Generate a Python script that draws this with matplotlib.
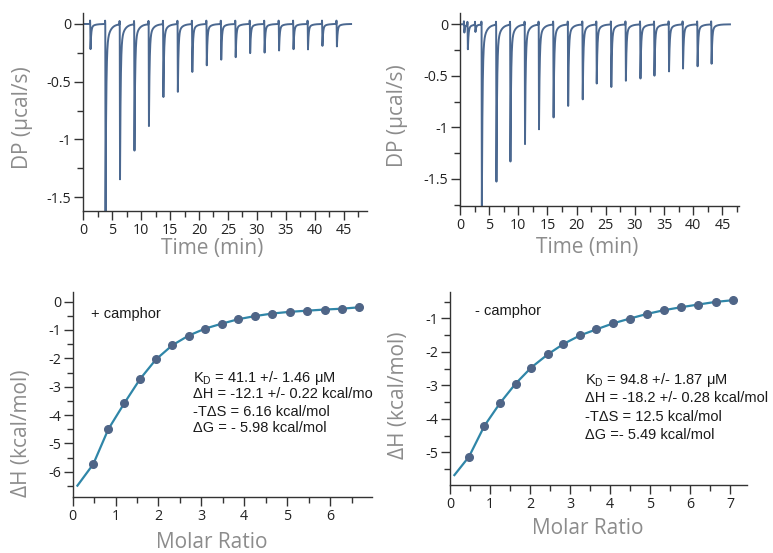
import numpy as np
import matplotlib
matplotlib.use("Agg")
import matplotlib.pyplot as plt
from matplotlib.ticker import MultipleLocator

plt.rcParams['axes.unicode_minus'] = False

# ---------------- data ----------------
# thermogram (+ camphor): injection times (min) and peak minima (ucal/s)
inj_t_plus = [1.2, 3.8, 6.3, 8.8, 11.3, 13.8, 16.3, 18.8, 21.3, 23.8, 26.3,
              28.8, 31.3, 33.8, 36.3, 38.8, 41.3, 43.8]
inj_d_plus = [-0.22, -1.65, -1.35, -1.105, -0.883, -0.635, -0.591, -0.415, -0.36,
              -0.31, -0.288, -0.254, -0.248, -0.23, -0.22, -0.22, -0.19, -0.196]

# thermogram (- camphor)
inj_t_minus = [0.7, 1.3, 2.6, 3.7, 6.2, 8.6, 11.1, 13.5, 16.0, 18.5, 21.0,
               23.4, 25.9, 28.4, 30.9, 33.3, 35.8, 38.2, 40.7, 43.1]
inj_d_minus = [-0.08, -0.24, -0.07, -1.80, -1.53, -1.34, -1.16, -1.02, -0.91,
               -0.79, -0.73, -0.578, -0.607, -0.549, -0.53, -0.497, -0.458,
               -0.432, -0.406, -0.383]

# integrated heats (+ camphor)
mr_plus = [0.48, 0.83, 1.20, 1.57, 1.94, 2.32, 2.70, 3.09, 3.47, 3.86, 4.25,
           4.65, 5.06, 5.46, 5.87, 6.27, 6.68]
dh_plus = [-5.73, -4.50, -3.59, -2.73, -2.04, -1.54, -1.20, -0.95, -0.78,
           -0.62, -0.51, -0.42, -0.36, -0.32, -0.28, -0.25, -0.20]
fit_x_plus = [0.11] + mr_plus
fit_y_plus = [-6.49] + dh_plus

# integrated heats (- camphor)
mr_minus = [0.475, 0.86, 1.25, 1.64, 2.03, 2.44, 2.83, 3.25, 3.66, 4.08, 4.49,
            4.92, 5.34, 5.77, 6.20, 6.64, 7.07]
dh_minus = [-5.13, -4.21, -3.53, -2.95, -2.47, -2.08, -1.77, -1.51, -1.33,
            -1.15, -1.01, -0.87, -0.76, -0.67, -0.59, -0.51, -0.46]
fit_x_minus = [0.11] + mr_minus
fit_y_minus = [-5.68] + dh_minus

stats_plus = [r"K$_{\mathregular{D}}$ = 41.1 +/- 1.46 μM",
              "ΔH = -12.1 +/- 0.22 kcal/mo",
              "-TΔS = 6.16 kcal/mol",
              "ΔG = - 5.98 kcal/mol"]
stats_minus = [r"K$_{\mathregular{D}}$ = 94.8 +/- 1.87 μM",
               "ΔH = -18.2 +/- 0.28 kcal/mol",
               "-TΔS = 12.5 kcal/mol",
               "ΔG =- 5.49 kcal/mol"]

# ---------------- style ----------------
TRACE = '#4b6890'
DOT = '#4f6587'
FIT = '#2f86a8'
LABEL_C = '#8c8c8c'
AX_C = '#333333'
TICK_FONT = 'Open Sans'
LBL_FONT = 'Open Sans'
TXT_FONT = 'Liberation Sans'
LBL_SIZE = 15

W, H = 773, 553
fig = plt.figure(figsize=(W / 100, H / 100), dpi=100)


def axes_px(x0, y0, x1, y1):
    return fig.add_axes([x0 / W, 1 - y1 / H, (x1 - x0) / W, (y1 - y0) / H])


def style(ax, xmaj, xmin, ymaj, ymin):
    for s in ['top', 'right']:
        ax.spines[s].set_visible(False)
    for s in ['left', 'bottom']:
        ax.spines[s].set_color(AX_C)
        ax.spines[s].set_linewidth(1.0)
    ax.xaxis.set_major_locator(MultipleLocator(xmaj))
    ax.xaxis.set_minor_locator(MultipleLocator(xmin))
    ax.yaxis.set_major_locator(MultipleLocator(ymaj))
    ax.yaxis.set_minor_locator(MultipleLocator(ymin))
    ax.tick_params(which='major', length=6.5, width=1, color=AX_C, labelsize=10.3,
                   labelcolor='#222222', pad=2)
    ax.tick_params(which='minor', length=4, width=1, color=AX_C)
    for lab in ax.get_xticklabels() + ax.get_yticklabels():
        lab.set_fontfamily(TICK_FONT)


def thermogram(times, depths, t_end):
    t = np.linspace(0.1, t_end, 24000)
    y = np.zeros_like(t)
    for ti, di in zip(times, depths):
        s = t - ti
        shape = np.zeros_like(t)
        rise = (s >= 0) & (s < 0.05)
        shape[rise] = s[rise] / 0.05
        dec = s >= 0.05
        sd = s[dec] - 0.05
        shape[dec] = 0.86 * np.exp(-sd / 0.11) + 0.14 * np.exp(-sd / 0.6)
        y += di * shape
        # small upward injection spike
        sp = (s > -0.06) & (s < 0)
        y[sp] += 0.03 * (1 - np.abs(s[sp] + 0.03) / 0.03)
    return t, y


def fmt(ax):
    ax.xaxis.set_major_formatter(matplotlib.ticker.FuncFormatter(lambda v, p: f"{v:g}"))
    ax.yaxis.set_major_formatter(matplotlib.ticker.FuncFormatter(lambda v, p: f"{v:g}"))


def labels(ax, xl, yl, xpos, ypos):
    ax.set_xlabel(xl, fontsize=LBL_SIZE, color=LABEL_C, fontfamily=LBL_FONT)
    ax.set_ylabel(yl, fontsize=LBL_SIZE, color=LABEL_C, fontfamily=LBL_FONT)
    ax.xaxis.set_label_coords(*xpos)
    ax.yaxis.set_label_coords(*ypos)
    ax.xaxis.label.set_va('center')
    ax.yaxis.label.set_va('center')


# ---- top left ----
ax1 = axes_px(83.3, 13, 366.7, 211)
t, y = thermogram(inj_t_plus, inj_d_plus, 46.3)
ax1.plot(t, y, color=TRACE, lw=1.4)
ax1.set_xlim(0, 49)
ax1.set_ylim(-1.62, 0.095)
style(ax1, 5, 2.5, 0.5, 0.25)
fmt(ax1)
labels(ax1, "Time (min)", "DP (µcal/s)", (0.456, -37 / 198), (-0.2145, 0.47))

# ---- top right ----
ax2 = axes_px(460, 13, 739.3, 205.7)
t, y = thermogram(inj_t_minus, inj_d_minus, 46.3)
ax2.plot(t, y, color=TRACE, lw=1.4)
ax2.set_xlim(0, 47.9)
ax2.set_ylim(-1.76, 0.11)
style(ax2, 5, 2.5, 0.5, 0.25)
fmt(ax2)
labels(ax2, "Time (min)", "DP (µcal/s)", (0.455, -42 / 192.7), (-0.2238, 0.47))

# ---- bottom left ----
ax3 = axes_px(72.7, 291.7, 371.7, 496.7)
ax3.plot(fit_x_plus, fit_y_plus, color=FIT, lw=1.6, zorder=2)
ax3.plot(mr_plus, dh_plus, 'o', color=DOT, ms=5.5, zorder=3)
ax3.set_xlim(0, 6.97)
ax3.set_ylim(-6.88, 0.35)
style(ax3, 1, 0.5, 1, 0.5)
fmt(ax3)
labels(ax3, "Molar Ratio", "ΔH (kcal/mol)", (0.465, -46 / 205), (-0.1706, 0.31))

# ---- bottom right ----
ax4 = axes_px(450, 291.7, 747.3, 485)
ax4.plot(fit_x_minus, fit_y_minus, color=FIT, lw=1.6, zorder=2)
ax4.plot(mr_minus, dh_minus, 'o', color=DOT, ms=5.5, zorder=3)
ax4.set_xlim(0, 7.43)
ax4.set_ylim(-5.976, -0.206)
style(ax4, 1, 0.5, 1, 0.5)
fmt(ax4)
labels(ax4, "Molar Ratio", "ΔH (kcal/mol)", (0.4625, -43 / 193.3), (-0.174, 0.466))

# ---- annotations ----
def ftext(x, y, s, **kw):
    fig.text(x / W, 1 - y / H, s, fontsize=10.5, fontfamily=TXT_FONT,
             color='#1a1a1a', **kw)

ftext(91, 314, "+ camphor", va='center')
ftext(475, 311, "- camphor", va='center')
for yy, s in zip([381.7, 398.3, 415.7, 432.3], stats_plus):
    ftext(192.7, yy, s, va='baseline')
for yy, s in zip([384, 402.3, 421, 439], stats_minus):
    ftext(585, yy, s, va='baseline')

fig.savefig("out.png", dpi=100)
